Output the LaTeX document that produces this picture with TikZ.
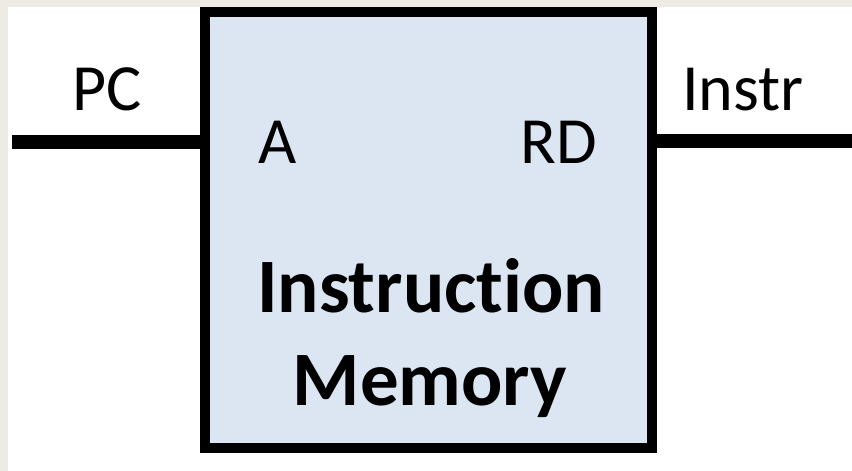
\documentclass[tikz,border=0pt]{standalone}
\usepackage{fontspec}
\setmainfont{Carlito}[Ligatures=NoCommon]
\usepackage{xcolor}
\usepackage{tikz}
\usetikzlibrary{positioning}

\definecolor{memfill}{HTML}{DCE6F2}
\definecolor{paper}{HTML}{EEEBE4}

\begin{document}
\begin{tikzpicture}[x=1pt, y=-1pt,
    bus/.style={line width=14pt, black},
    port/.style={inner sep=0pt, font=\fontsize{66}{70}\selectfont},
    title/.style={inner sep=0pt, font=\fontsize{77}{80}\selectfont\bfseries}]
  % background
  \fill[paper] (0,0) rectangle (852,471);
  \fill[white] (8,7) rectangle (852,471);
  \useasboundingbox (0,0) rectangle (852,471);

  % memory block
  \node[draw, line width=10pt, fill=memfill, minimum width=447pt, minimum height=436pt,
        inner sep=0pt] (imem) at (428.5,230) {};

  % port labels inside
  \node[port, anchor=base west] (addr) at (258,163) {A};
  \node[port, anchor=base east] (rd) at (597,163) {RD};
  \node[title, anchor=base] (imemname) at (431,312) {Instruction};
  \node[title, anchor=base] (imemname2) at (430,405) {Memory};

  % wires
  \coordinate (pcin) at (12,142);
  \coordinate (instrout) at (852,141);
  \draw[bus] (pcin) -- (pcin -| imem.west);
  \draw[bus] (instrout -| imem.east) -- (instrout);

  \node[port, anchor=base west] (pc) at (72,110) {PC};
  \node[port, anchor=base west] (instr) at (682,110) {Instr};
\end{tikzpicture}
\end{document}
